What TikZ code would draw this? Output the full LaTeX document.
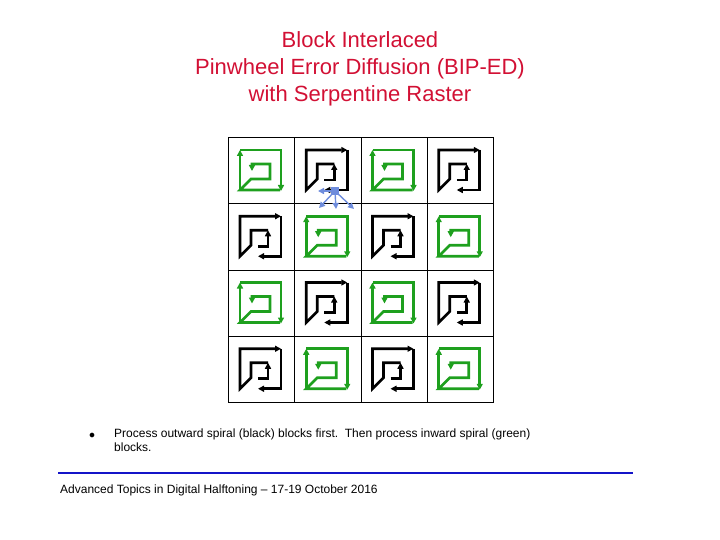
\documentclass[tikz,border=0pt]{standalone}
\usepackage{fontspec}
\setmainfont{Liberation Sans}
\usetikzlibrary{arrows.meta, positioning}
\definecolor{titlered}{RGB}{210, 16, 52}
\definecolor{spiralgreen}{RGB}{30, 160, 30}
\definecolor{rulerblue}{RGB}{20, 20, 200}
\definecolor{fanblue}{RGB}{110, 140, 220}

\begin{document}
\begin{tikzpicture}[x=1pt, y=-1pt,
  spiral/.style={line width=2.6pt, -{Triangle[length=6pt,width=6pt]}},
  cellbox/.style={draw, line width=0.5pt, minimum size=66.25pt, inner sep=0pt, anchor=north west},
  fan/.style={fanblue, line width=1.4pt, -{Triangle[length=6pt,width=6pt]}}
]
  \useasboundingbox (0,0) rectangle (720,540);
  % title
  \node[titlered, font=\fontsize{22}{27}\selectfont, align=center] (title) at (360,69)
    {Block Interlaced\\Pinwheel Error Diffusion (BIP-ED)\\with Serpentine Raster};
  % grid of blocks, green on even squares
  \foreach \r in {0,...,3}{
    \foreach \c in {0,...,3}{
      \node[cellbox] (cell\r\c) at ({228+66.25*\c},{137+66.25*\r}) {};
      \pgfmathtruncatemacro{\parity}{mod(\r+\c,2)}
      \begin{scope}[shift={({228+66.25*\c},{137+66.25*\r})}]
        \ifnum\parity=0
          % inward spiral
          \draw[spiral, spiralgreen] (52,53) -- (12,53) -- (23,42) -- (42,42) -- (42,27) -- (24,27) -- (24,34);
          \draw[spiral, spiralgreen] (12,53) -- (12,13);
          \draw[spiral, spiralgreen] (12,13) -- (53,13) -- (53,54);
        \else
          % outward spiral
          \draw[spiral] (30,43) -- (40,43) -- (40,27);
          \draw[spiral] (40,27) -- (23,27) -- (23,42) -- (12,53) -- (12,13) -- (53,13);
          \draw[spiral] (53,13) -- (53,53) -- (30,53);
        \fi
      \end{scope}
    }
  }
  % error diffusion fan
  \coordinate (src) at (335,191);
  \draw[fan] (src) -- (318,191);
  \draw[fan] (src) -- (319,208);
  \draw[fan] (src) -- (336,209);
  \draw[fan] (src) -- (354,209);
  \fill[fanblue] (331,187) rectangle (339,195);
  % caption
  \node[font=\fontsize{12}{14}\selectfont] (bullet) at (92,436) {$\bullet$};
  \node[font=\fontsize{12}{14}\selectfont, anchor=north west, align=left, inner sep=0pt] (note) at (114,429)
    {Process outward spiral (black) blocks first.\ \ Then process inward spiral (green)\\blocks.};
  \draw[rulerblue, line width=2.5pt] (58,473) coordinate (rl) -- (633,473) coordinate (rr);
  \node[font=\fontsize{12}{14}\selectfont, anchor=west, inner sep=0pt] (footer) at (60,490)
    {Advanced Topics in Digital Halftoning -- 17-19 October 2016};
\end{tikzpicture}
\end{document}
